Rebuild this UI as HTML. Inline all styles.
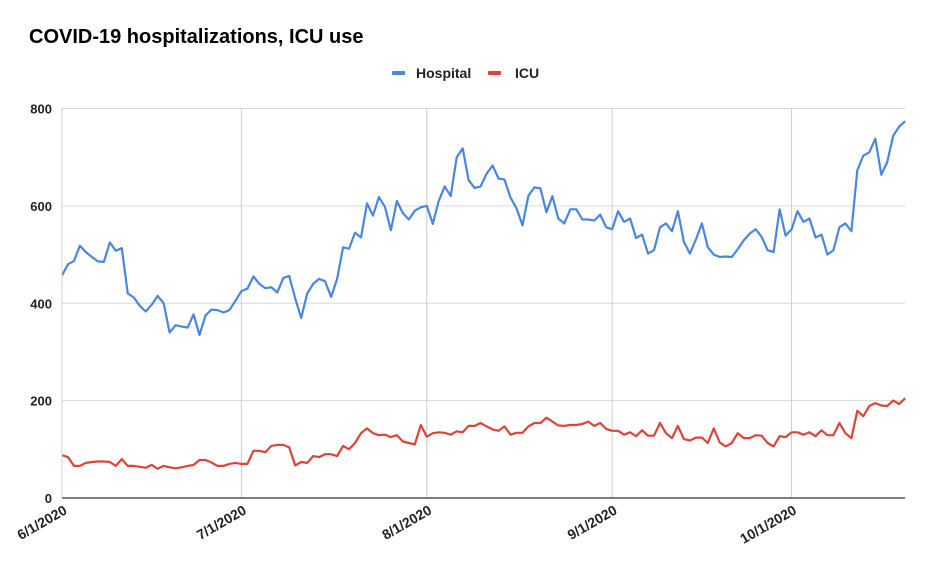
<!DOCTYPE html>
<html><head><meta charset="utf-8"><style>
html,body{margin:0;padding:0;background:#fff;}
svg{display:block;font-family:"Liberation Sans",Arial,sans-serif;}
</style></head><body>
<svg id="chart" width="925" height="573" viewBox="0 0 925 573" xmlns="http://www.w3.org/2000/svg">
<rect width="925" height="573" fill="#fff"/>
<text x="29" y="43" font-size="20" font-weight="bold" fill="#000">COVID-19 hospitalizations, ICU use</text>
<g>
<g>
<rect x="392" y="71" width="13" height="4" rx="1" fill="#4a86e0"/>
<text x="416" y="78" font-size="14" font-weight="bold" fill="#222">Hospital</text></g>
<g>
<rect x="488" y="71" width="13" height="4" rx="1" fill="#dc4438"/>
<text x="515" y="78" font-size="14" font-weight="bold" fill="#222">ICU</text></g>
</g>
<g id="grid"></g>
<g id="series"></g>
<g id="axes"></g>
</svg>
<script>
const yTicks = [0, 200, 400, 600, 800];
const xTickLabels = ["6/1/2020", "7/1/2020", "8/1/2020", "9/1/2020", "10/1/2020"];
const xTickDays = [0, 30, 61, 92, 122];
const hospital = [457,480,487,518,505,495,486,485,525,508,513,420,412,395,383,397,415,400,340,355,352,350,377,335,375,387,386,381,386,405,
425,430,455,440,431,433,422,452,456,410,370,420,440,450,445,413,450,515,512,545,535,605,580,618,598,550,610,585,572,590,597,
600,563,610,640,620,700,718,653,637,640,666,683,656,654,617,595,560,621,638,636,587,620,574,564,593,593,572,572,570,582,556,
552,589,567,574,534,541,502,509,556,564,548,589,526,502,531,564,515,500,495,496,495,511,529,543,
552,536,509,505,593,539,552,589,567,574,535,541,500,509,556,564,548,673,703,710,738,664,690,744,763,774];
const icu = [88,84,66,66,72,74,75,75,74,66,80,66,66,64,62,68,60,66,63,61,63,66,68,78,78,73,66,66,70,72,
70,70,97,97,94,107,109,109,104,67,74,72,86,84,90,90,86,107,100,113,133,143,133,129,130,125,129,116,113,110,150,
126,133,135,134,130,137,135,148,148,154,147,141,138,147,130,134,134,147,154,154,165,157,149,148,150,150,152,157,148,154,142,
138,138,130,135,127,139,128,128,154,133,123,148,121,118,124,124,113,143,114,106,113,133,123,123,
129,128,113,106,127,125,135,135,130,135,127,139,129,129,154,133,123,179,168,189,195,190,189,200,193,205];

const NS = "http://www.w3.org/2000/svg";
const x0 = 62, dayW = 5.98, y0 = 498, yTop = 108.5, vMax = 800;
const xScale = d => x0 + d * dayW;
const yScale = v => y0 - (v / vMax) * (y0 - yTop);
function mk(tag, attrs, parent) {
  const el = document.createElementNS(NS, tag);
  for (const k in attrs) el.setAttribute(k, attrs[k]);
  parent.appendChild(el);
  return el;
}
const grid = document.getElementById('grid');
const axes = document.getElementById('axes');
const series = document.getElementById('series');
const xEnd = xScale(hospital.length - 1);
yTicks.forEach(t => {
  const y = yScale(t);
  if (t > 0) {
    const l = mk('line', {x1: x0, x2: xEnd, y1: y, y2: y, stroke: '#d9d9d9', 'stroke-width': 1}, grid);
    
    
  }
  const tx = mk('text', {x: 52, y: y + 5, 'text-anchor': 'end', 'font-size': 13, 'font-weight': 'bold', fill: '#222'}, axes);
  tx.textContent = t;
  
  
});
xTickDays.forEach((d, i) => {
  const x = xScale(d);
  if (d > 0) {
    const l = mk('line', {x1: x, x2: x, y1: yTop, y2: y0, stroke: '#cccccc', 'stroke-width': 1}, grid);
    
    
  }
  const tx = mk('text', {x: x + 6, y: y0 + 15, 'text-anchor': 'end', 'font-size': 14, 'font-weight': 'bold', fill: '#222', transform: `rotate(-30 ${x + 6} ${y0 + 15})`}, axes);
  tx.textContent = xTickLabels[i];
  
  
});
const la = mk('line', {x1: x0, x2: x0, y1: yTop, y2: y0, stroke: '#d0d0d0', 'stroke-width': 1}, axes);


const ba = mk('line', {x1: x0, x2: xEnd, y1: y0, y2: y0, stroke: '#555', 'stroke-width': 1.5}, axes);


function drawLine(vals, color, name) {
  const pts = vals.map((v, i) => xScale(i).toFixed(1) + ',' + yScale(v).toFixed(1)).join(' ');
  const p = mk('polyline', {points: pts, fill: 'none', stroke: color, 'stroke-width': 2.2, 'stroke-linejoin': 'round'}, series);
  
  
}
drawLine(icu, '#dc4438', 'icu-line');
drawLine(hospital, '#4a86e0', 'hospital-line');
</script>
</body></html>
